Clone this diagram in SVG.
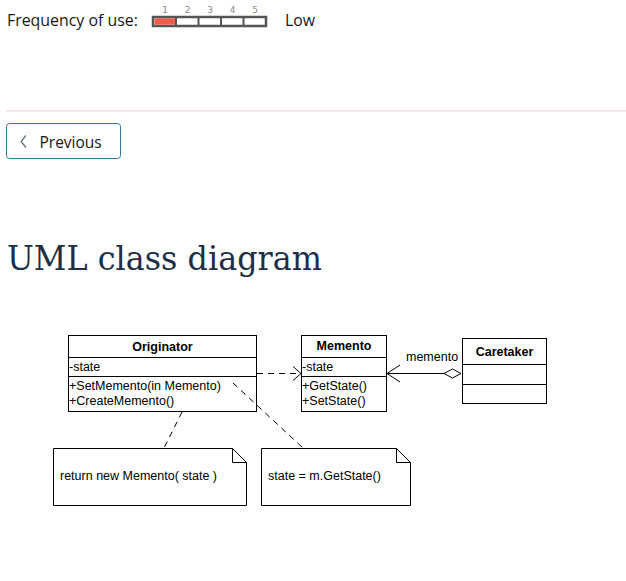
<svg xmlns="http://www.w3.org/2000/svg" width="626" height="581" viewBox="0 0 626 581">
<style>
.ui{font-family:"Open Sans","Noto Sans",sans-serif;fill:#171717}
.num{font-family:"DejaVu Sans",sans-serif;font-size:9px;fill:#8a8a8a}
.box{fill:#fff;stroke:#000;stroke-width:1}
.t{font-family:"Liberation Sans",Arial,sans-serif;font-size:12.5px;fill:#000}
.b{font-weight:bold;text-anchor:middle}
.dash{fill:none;stroke:#000;stroke-width:1;stroke-dasharray:6,5}
.ln{fill:none;stroke:#000;stroke-width:1}
</style>
<rect width="626" height="581" fill="#fff"/>
<g id="header">
<text class="ui" x="7" y="26" font-size="15.9">Frequency of use:</text>
<rect x="153" y="17" width="113" height="9" fill="#fff" stroke="#555" stroke-width="2.5"/>
<rect x="154.5" y="18.3" width="21" height="6.4" fill="#ef5a4a"/>
<g stroke="#555" stroke-width="2">
<line x1="176" y1="17" x2="176" y2="26"/>
<line x1="198.5" y1="17" x2="198.5" y2="26"/>
<line x1="221" y1="17" x2="221" y2="26"/>
<line x1="243.5" y1="17" x2="243.5" y2="26"/>
</g>
<text class="num" x="165" y="13" text-anchor="middle">1</text>
<text class="num" x="187.5" y="13" text-anchor="middle">2</text>
<text class="num" x="210" y="13" text-anchor="middle">3</text>
<text class="num" x="232.5" y="13" text-anchor="middle">4</text>
<text class="num" x="255" y="13" text-anchor="middle">5</text>
<text class="ui" x="285" y="26" font-size="15.9">Low</text>
<line x1="6" y1="111" x2="626" y2="111" stroke="#e3d3d3" stroke-width="1"/>
</g>
<g id="previous">
<rect x="6.5" y="123.5" width="114" height="35" rx="3" fill="#fff" stroke="#2b7f9c" stroke-width="1"/>
<polyline points="26,135.5 21,141.5 26,147.5" fill="none" stroke="#5a6e7c" stroke-width="1.2"/>
<text class="ui" x="39.5" y="148" font-size="15.5" fill="#222">Previous</text>
</g>
<text id="title" x="7" y="270" font-family="'DejaVu Serif','Liberation Serif',serif" font-size="34" fill="#1e2f45" textLength="315" lengthAdjust="spacingAndGlyphs">UML class diagram</text>
<g id="originator">
<rect class="box" x="68.5" y="335.5" width="188" height="76"/>
<line class="ln" x1="68.5" y1="357.5" x2="256.5" y2="357.5"/>
<line class="ln" x1="68.5" y1="376.5" x2="256.5" y2="376.5"/>
<text class="t b" x="162.5" y="351">Originator</text>
<text class="t" x="69" y="370.5">-state</text>
<text class="t" x="69" y="390">+SetMemento(in Memento)</text>
<text class="t" x="69" y="405">+CreateMemento()</text>
</g>
<g id="memento">
<rect class="box" x="301.5" y="335.5" width="85" height="76"/>
<line class="ln" x1="301.5" y1="357.5" x2="386.5" y2="357.5"/>
<line class="ln" x1="301.5" y1="376.5" x2="386.5" y2="376.5"/>
<text class="t b" x="344" y="350">Memento</text>
<text class="t" x="302" y="370.5">-state</text>
<text class="t" x="302" y="390">+GetState()</text>
<text class="t" x="302" y="405">+SetState()</text>
</g>
<g id="caretaker">
<rect class="box" x="462.5" y="338.5" width="84" height="65"/>
<line class="ln" x1="462.5" y1="364.5" x2="546.5" y2="364.5"/>
<line class="ln" x1="462.5" y1="384.5" x2="546.5" y2="384.5"/>
<text class="t b" x="504.5" y="356">Caretaker</text>
</g>
<g id="note1">
<path class="box" d="M53.5,448.5 H232.5 L246.5,462.5 V505.5 H53.5 Z"/>
<polyline class="ln" points="232.5,448.5 232.5,462.5 246.5,462.5"/>
<text class="t" x="60" y="480">return new Memento( state )</text>
</g>
<g id="note2">
<path class="box" d="M261.5,448.5 H396.5 L410.5,462.5 V505.5 H261.5 Z"/>
<polyline class="ln" points="396.5,448.5 396.5,462.5 410.5,462.5"/>
<text class="t" x="268" y="480">state = m.GetState()</text>
</g>
<g id="connectors">
<line class="dash" x1="257" y1="373.5" x2="300" y2="373.5"/>
<polyline class="ln" points="293,366.5 301,373.5 293,380.5"/>
<line class="ln" x1="386" y1="373.5" x2="444" y2="373.5"/>
<polyline class="ln" points="400,365 387,373.5 400,382"/>
<polygon points="444,373.5 452.5,369 461,373.5 452.5,378" fill="#fff" stroke="#000" stroke-width="1"/>
<text class="t" x="406" y="361">memento</text>
<line class="dash" x1="182" y1="412" x2="164" y2="448"/>
<line class="dash" x1="233" y1="383" x2="303" y2="448"/>
</g>
</svg>
